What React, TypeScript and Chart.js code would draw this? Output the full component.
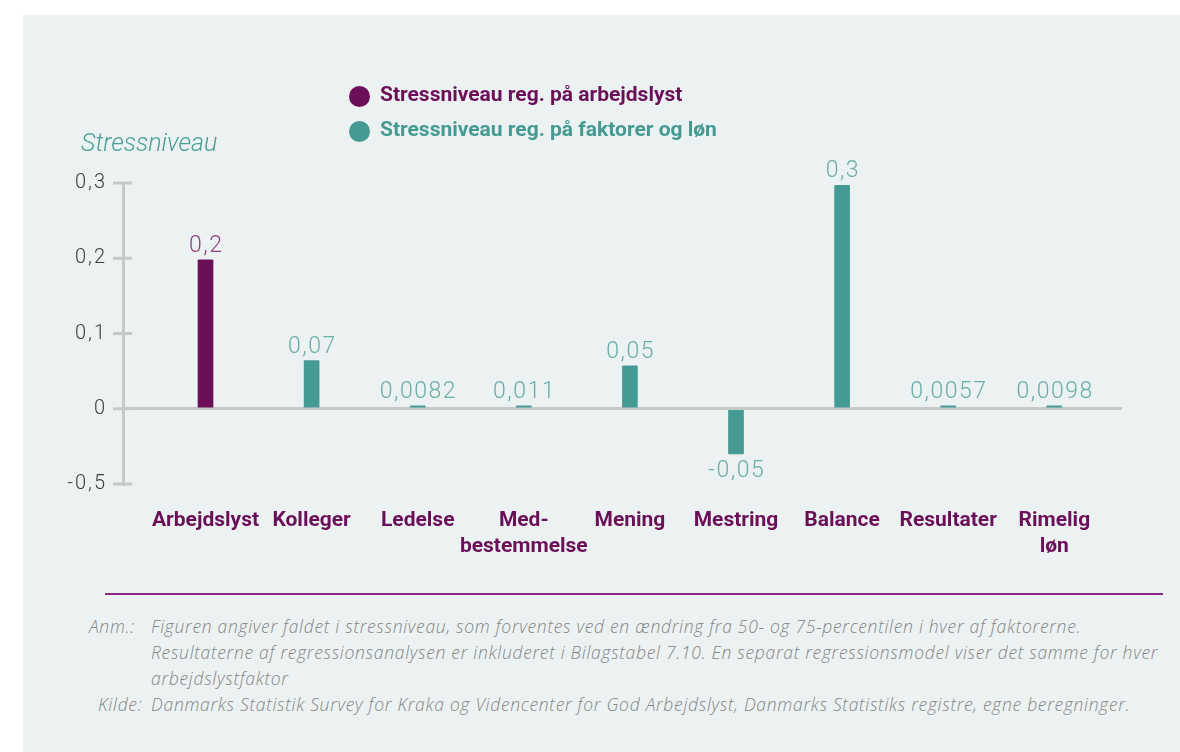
import React, { useEffect, useRef } from 'react';
import { Chart, registerables } from 'chart.js';

Chart.register(...registerables);

// ---- Data ----
const categories: string[][] = [
  ['Arbejdslyst'],
  ['Kolleger'],
  ['Ledelse'],
  ['Med-', 'bestemmelse'],
  ['Mening'],
  ['Mestring'],
  ['Balance'],
  ['Resultater'],
  ['Rimelig', 'løn'],
];
const seriesArbejdslyst: (number | null)[] = [0.198, null, null, null, null, null, null, null, null];
const seriesFaktorer: (number | null)[] = [null, 0.064, 0.004, 0.004, 0.057, -0.06, 0.297, 0.004, 0.004];
const valueLabels: string[] = ['0,2', '0,07', '0,0082', '0,011', '0,05', '-0,05', '0,3', '0,0057', '0,0098'];
const yTickValues: number[] = [-0.1, 0, 0.1, 0.2, 0.3];
const yTickLabels: string[] = ['-0,5', '0', '0,1', '0,2', '0,3'];
const legendLabels: string[] = ['Stressniveau reg. på arbejdslyst', 'Stressniveau reg. på faktorer og løn'];

// ---- Styles ----
const PURPLE = '#6b1058';
const TEAL = '#459a93';
const PURPLE_LABEL = '#8a4380';
const TEAL_LABEL = '#6aaea8';
const AXIS = '#c8c8c8';

const spacingPlugin = {
  id: 'spacing',
  beforeDraw(chart: any) {
    (chart.ctx as any).letterSpacing = '2px';
  },
};

const valueLabelPlugin = {
  id: 'valueLabels',
  afterDatasetsDraw(chart: any) {
    const ctx = chart.ctx;
    ctx.save();
    (ctx as any).letterSpacing = '1.5px';
    ctx.font = '300 23px Roboto';
    ctx.textAlign = 'center';
    ctx.textBaseline = 'alphabetic';
    chart.data.datasets.forEach((ds: any, di: number) => {
      const meta = chart.getDatasetMeta(di);
      meta.data.forEach((el: any, i: number) => {
        const v = ds.data[i];
        if (v === null || v === undefined) return;
        ctx.fillStyle = di === 0 ? PURPLE_LABEL : TEAL_LABEL;
        const y = v >= 0 ? el.y - 8 : el.y + 23;
        ctx.fillText(valueLabels[i], el.x + 0.75, y);
      });
    });
    ctx.restore();
  },
};

const categoryLabelPlugin = {
  id: 'categoryLabels',
  afterDraw(chart: any) {
    const ctx = chart.ctx;
    const xs = chart.scales.x;
    const bottom = chart.chartArea.bottom;
    ctx.save();
    (ctx as any).letterSpacing = '0px';
    ctx.font = 'bold 21px Roboto';
    ctx.fillStyle = PURPLE;
    ctx.textAlign = 'center';
    ctx.textBaseline = 'middle';
    categories.forEach((lines, i) => {
      const px = xs.getPixelForValue(i);
      lines.forEach((line, li) => {
        ctx.fillText(line, px, bottom + 37 + li * 26);
      });
    });
    ctx.restore();
  },
};

const tickMarkPlugin = {
  id: 'tickMarks',
  beforeDatasetsDraw(chart: any) {
    const ctx = chart.ctx;
    const ys = chart.scales.y;
    const left = chart.chartArea.left;
    ctx.save();
    ctx.strokeStyle = AXIS;
    ctx.lineWidth = 3;
    yTickValues.forEach((v) => {
      const py = ys.getPixelForValue(v);
      ctx.beginPath();
      ctx.moveTo(left - 10, py);
      ctx.lineTo(left + 9, py);
      ctx.stroke();
    });
    ctx.restore();
  },
};

function Txt(props: {
  x: number;
  baseline: number;
  size: number;
  k: number;
  style?: React.CSSProperties;
  children: React.ReactNode;
}) {
  return (
    <div
      style={{
        position: 'absolute',
        left: props.x,
        top: props.baseline - props.k * props.size,
        fontSize: props.size,
        lineHeight: 1,
        whiteSpace: 'nowrap',
        ...props.style,
      }}
    >
      {props.children}
    </div>
  );
}

export default function App() {
  const canvasRef = useRef<HTMLCanvasElement | null>(null);

  useEffect(() => {
    if (!canvasRef.current) return;
    const chart = new Chart(canvasRef.current, {
      type: 'bar',
      data: {
        labels: categories.map((_, i) => i),
        datasets: [
          {
            label: legendLabels[0],
            data: seriesArbejdslyst,
            backgroundColor: PURPLE,
            barThickness: 15,
            grouped: false,
            borderRadius: 1,
            borderSkipped: 'start',
          } as any,
          {
            label: legendLabels[1],
            data: seriesFaktorer,
            backgroundColor: TEAL,
            barThickness: 15,
            grouped: false,
            borderRadius: 1,
            borderSkipped: 'start',
          } as any,
        ],
      },
      options: {
        animation: false,
        responsive: false,
        maintainAspectRatio: false,
        layout: { padding: { top: 183, right: 58, left: 0, bottom: 0 } },
        plugins: {
          legend: { display: false },
          tooltip: { enabled: false },
          title: { display: false },
        },
        scales: {
          x: {
            type: 'linear',
            position: 'bottom',
            offset: false,
            min: -0.7776,
            max: 8.638,
            grid: { display: false, offset: false },
            border: { display: false },
            afterBuildTicks: (scale: any) => {
              scale.ticks = categories.map((_, i) => ({ value: i }));
            },
            afterFit: (scale: any) => {
              scale.height = 90;
              scale.paddingLeft = 0;
              scale.paddingRight = 0;
            },
            ticks: { display: false },
          },
          y: {
            type: 'linear',
            min: -0.1,
            max: 0.3,
            afterBuildTicks: (scale: any) => {
              scale.ticks = yTickValues.map((v) => ({ value: v }));
            },
            afterFit: (scale: any) => {
              scale.width = 123;
            },
            grid: {
              drawTicks: false,
              drawOnChartArea: true,
              lineWidth: 3,
              color: (ctx: any) => (ctx.tick && Math.abs(ctx.tick.value) < 1e-9 ? AXIS : 'rgba(0,0,0,0)'),
            },
            border: { display: true, color: AXIS, width: 3 },
            ticks: {
              padding: 16,
              color: '#3d3d3d',
              font: { family: 'Roboto', weight: '300', size: 20 },
              callback: (_v: any, i: number) => yTickLabels[i],
            },
          },
        },
      } as any,
      plugins: [spacingPlugin, tickMarkPlugin, valueLabelPlugin, categoryLabelPlugin],
    });
    return () => chart.destroy();
  }, []);

  const noteStyle: React.CSSProperties = {
    fontFamily: '"Open Sans", sans-serif',
    fontStyle: 'italic',
    fontWeight: 300,
    color: '#858585',
    letterSpacing: '0.7px',
  };
  const NK = 0.888;
  const NS = 17.5;

  return (
    <div
      style={{
        position: 'absolute',
        left: 0,
        top: 0,
        width: 1180,
        height: 752,
        background: '#ffffff',
        overflow: 'hidden',
      }}
    >
      <div style={{ position: 'absolute', left: 23, top: 15, right: 0, bottom: 0, background: '#ecf2f2' }} />
      <canvas ref={canvasRef} width={1180} height={574} style={{ position: 'absolute', left: 0, top: 0 }} />

      {/* Axis title */}
      <Txt x={81} baseline={151} size={25} k={0.842} style={{ fontFamily: 'Roboto', fontStyle: 'italic', fontWeight: 300, color: '#4a9f98' }}>
        Stressniveau
      </Txt>

      {/* Legend */}
      <div style={{ position: 'absolute', left: 348.5, top: 85.5, width: 21, height: 21, borderRadius: '50%', background: PURPLE }} />
      <div style={{ position: 'absolute', left: 348.5, top: 120.5, width: 21, height: 21, borderRadius: '50%', background: TEAL }} />
      <Txt x={380} baseline={101.7} size={21} k={0.842} style={{ fontFamily: 'Roboto', fontWeight: 700, color: PURPLE }}>
        {legendLabels[0]}
      </Txt>
      <Txt x={380} baseline={136.7} size={21} k={0.842} style={{ fontFamily: 'Roboto', fontWeight: 700, color: TEAL }}>
        {legendLabels[1]}
      </Txt>

      {/* Separator line */}
      <div style={{ position: 'absolute', left: 105, top: 592.5, width: 1058, height: 2, background: '#8b2a80' }} />

      {/* Notes */}
      <Txt x={89} baseline={633.5} size={NS} k={NK} style={noteStyle}>Anm.:</Txt>
      <Txt x={151} baseline={633.5} size={NS} k={NK} style={noteStyle}>
        Figuren angiver faldet i stressniveau, som forventes ved en ændring fra 50- og 75-percentilen i hver af faktorerne.
      </Txt>
      <Txt x={151} baseline={659.5} size={NS} k={NK} style={noteStyle}>
        Resultaterne af regressionsanalysen er inkluderet i Bilagstabel 7.10. En separat regressionsmodel viser det samme for hver
      </Txt>
      <Txt x={151} baseline={685.5} size={NS} k={NK} style={noteStyle}>arbejdslystfaktor</Txt>
      <Txt x={98} baseline={711.5} size={NS} k={NK} style={noteStyle}>Kilde:</Txt>
      <Txt x={151} baseline={711.5} size={NS} k={NK} style={noteStyle}>
        Danmarks Statistik Survey for Kraka og Videncenter for God Arbejdslyst, Danmarks Statistiks registre, egne beregninger.
      </Txt>
    </div>
  );
}
